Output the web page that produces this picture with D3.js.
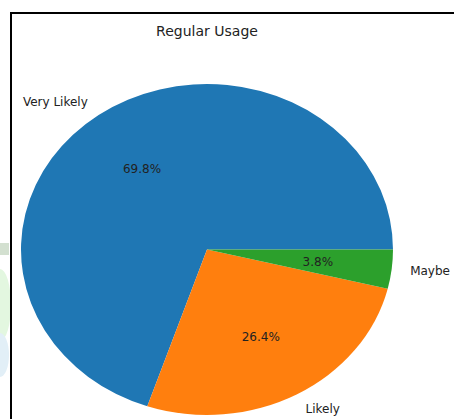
<!DOCTYPE html>
<html><head><meta charset="utf-8">
<script src="https://cdn.jsdelivr.net/npm/d3@7"></script>
<style>body{margin:0;background:#fff}svg{display:block}text{font-family:"DejaVu Sans",sans-serif;fill:#222}</style>
</head><body>
<script>
const categories = ["Very Likely", "Likely", "Maybe"];
const values = [69.8, 26.4, 3.8];
const colors = ["#1f77b4", "#ff7f0e", "#2ca02c"];
const title = "Regular Usage";

const W = 454, H = 419;
const svg = d3.select("body").append("svg").attr("width", W).attr("height", H);

// faint background artefacts left of frame
const bg = svg.append("g");
bg.append("ellipse").attr("cx", 0).attr("cy", 305).attr("rx", 11).attr("ry", 36).attr("fill", "#e3f7e0");
bg.append("ellipse").attr("cx", 0).attr("cy", 355).attr("rx", 9).attr("ry", 22).attr("fill", "#e2eff7");
bg.append("rect").attr("x", 0).attr("y", 243).attr("width", 9).attr("height", 12).attr("fill", "#d3e0d0");

// frame
svg.append("path").attr("d", `M11,${H} V13 H${W}`).attr("fill", "none").attr("stroke", "#000").attr("stroke-width", 2);

const cx = 207, cy = 249.5, ry = 165.5, rx = 186;
const pie = d3.pie().sort(null).startAngle(Math.PI / 2).endAngle(Math.PI / 2 - 2 * Math.PI);
const arcs = pie(values);
const arc = d3.arc().innerRadius(0).outerRadius(ry);

const g = svg.append("g").attr("transform", `translate(${cx},${cy}) scale(${rx / ry},1)`);
g.selectAll("path").data(arcs).join("path").attr("d", arc).attr("fill", (d, i) => colors[i]);

function pos(d, f) {
  const a = (d.startAngle + d.endAngle) / 2; // d3 angle: 0 at top, clockwise
  return [cx + f * rx * Math.sin(a), cy - f * ry * Math.cos(a)];
}
const total = d3.sum(values);
arcs.forEach((d, i) => {
  const [lx, ly] = pos(d, 1.1);
  svg.append("text").attr("x", lx).attr("y", ly).attr("dy", "0.35em")
    .attr("text-anchor", lx < cx ? "end" : "start").attr("font-size", 12).text(categories[i]);
  const [px, py] = pos(d, 0.6);
  svg.append("text").attr("x", px).attr("y", py).attr("dy", "0.35em")
    .attr("text-anchor", "middle").attr("font-size", 12).text((values[i] / total * 100).toFixed(1) + "%");
});

svg.append("text").attr("x", cx).attr("y", 31).attr("dy", "0.35em").attr("text-anchor", "middle")
  .attr("font-size", 14).text(title);
</script>
</body></html>
